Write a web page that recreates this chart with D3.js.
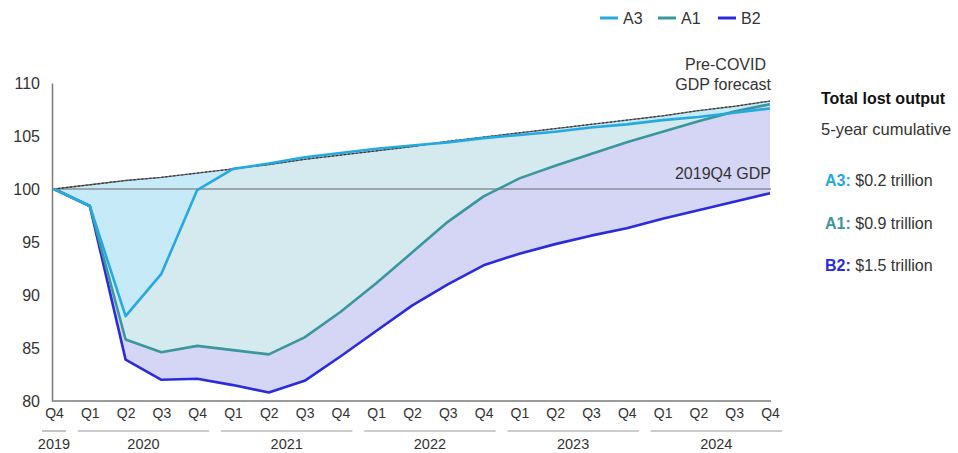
<!DOCTYPE html>
<html><head><meta charset="utf-8">
<script src="https://cdn.jsdelivr.net/npm/d3@7"></script>
<style>
html,body{margin:0;padding:0;background:#fff;}
svg text{font-family:"Liberation Sans",Arial,sans-serif;}
</style></head>
<body>
<svg id="chart" width="958" height="453"></svg>
<script>
const quarters = ["2019Q4","2020Q1","2020Q2","2020Q3","2020Q4","2021Q1","2021Q2","2021Q3","2021Q4","2022Q1","2022Q2","2022Q3","2022Q4","2023Q1","2023Q2","2023Q3","2023Q4","2024Q1","2024Q2","2024Q3","2024Q4"];
const years = ["2019","2020","2021","2022","2023","2024"];
const forecast = [100,100.4,100.8,101.1,101.5,101.9,102.3,102.8,103.2,103.6,104.0,104.5,104.9,105.3,105.7,106.1,106.5,106.9,107.4,107.8,108.3];
const A3 = [100,98.4,88.0,92.0,99.9,101.9,102.4,103.0,103.4,103.8,104.1,104.4,104.8,105.1,105.4,105.8,106.1,106.5,106.8,107.2,107.6];
const A1 = [100,98.4,85.8,84.6,85.2,84.8,84.4,86.0,88.4,91.1,94.0,96.9,99.3,101.0,102.2,103.3,104.4,105.4,106.4,107.3,108.0];
const B2 = [100,98.4,83.9,82.0,82.1,81.5,80.8,81.9,84.2,86.6,89.0,91.0,92.8,93.9,94.8,95.6,96.3,97.2,98.0,98.8,99.6];
const yTicks = [80,85,90,95,100,105,110];
const lostOutput = [["A3","$0.2 trillion"],["A1","$0.9 trillion"],["B2","$1.5 trillion"]];
const colors = {A3:"#26a9e0", A1:"#3a979c", B2:"#2b2bdc"};

const svg = d3.select("#chart");
const x = d3.scalePoint().domain(quarters).range([54, 770]);
const y = d3.scaleLinear().domain([80,110]).range([401, 83]);

// fills
function band(top, bot, fill){
  const area = d3.area().x((d,i)=>x(quarters[i])).y0((d,i)=>y(bot[i])).y1((d,i)=>y(top[i]));
  svg.append("path").datum(quarters).attr("d", area).attr("fill", fill).attr("stroke","none");
}
band(forecast, A3, "#c6eaf8");
band(A3, A1, "#d4eaef");
band(A1, B2, "#d5d6f5");

// 2019Q4 GDP reference line
svg.append("line").attr("x1",52).attr("x2",771).attr("y1",y(100)).attr("y2",y(100))
  .attr("stroke","#8a8f94").attr("stroke-width",1.5);

// forecast line
const line = d3.line().x((d,i)=>x(quarters[i])).y(d=>y(d));
svg.append("path").datum(forecast).attr("d",line).attr("fill","none")
  .attr("stroke","#6a6a6a").attr("stroke-width",1.3);
svg.append("path").datum(forecast).attr("d",line).attr("fill","none")
  .attr("stroke","#333").attr("stroke-width",1.2).attr("stroke-dasharray","2,2");

// series lines
[["B2",B2],["A1",A1],["A3",A3]].forEach(([k,v])=>{
  svg.append("path").datum(v).attr("d",line).attr("fill","none")
    .attr("stroke",colors[k]).attr("stroke-width",2.6).attr("stroke-linejoin","round");
});

// y axis
const yAxis = svg.append("g").attr("transform","translate(52,0)")
  .call(d3.axisLeft(y).tickValues(yTicks).tickSize(0).tickPadding(12).tickFormat(d3.format("d")));
yAxis.select(".domain").attr("stroke","#7a7a7a").attr("stroke-width",1.5);
yAxis.selectAll("text").attr("font-size",16).attr("fill","#333");

// x axis
const xAxis = svg.append("g").attr("transform","translate(0,401)")
  .call(d3.axisBottom(x).tickSize(0).tickSizeOuter(0).tickPadding(7).tickFormat(d=>d.slice(4)));
xAxis.select(".domain").attr("d","M52,0H771").attr("stroke","#7a7a7a").attr("stroke-width",1.5);
xAxis.selectAll("text").attr("font-size",14).attr("fill","#333");

// year groups
years.forEach(yr=>{
  const qs = quarters.filter(q=>q.startsWith(yr));
  const x0 = x(qs[0]) - 12, x1 = x(qs[qs.length-1]) + 12;
  svg.append("line").attr("x1",x0).attr("x2",x1).attr("y1",431).attr("y2",431)
    .attr("stroke","#9a9a9a").attr("stroke-width",1.2);
  svg.append("text").attr("x",(x(qs[0])+x(qs[qs.length-1]))/2).attr("y",449)
    .attr("text-anchor","middle").attr("font-size",14.5).attr("fill","#333").text(yr);
});

// annotations
svg.append("text").attr("x",766).attr("y",70).attr("text-anchor","end").attr("font-size",16).attr("fill","#333").text("Pre-COVID");
svg.append("text").attr("x",771).attr("y",90).attr("text-anchor","end").attr("font-size",16).attr("fill","#333").text("GDP forecast");
svg.append("text").attr("x",771).attr("y",179).attr("text-anchor","end").attr("font-size",16).attr("fill","#333").text("2019Q4 GDP");

// legend
const legendX = {A3:600, A1:658, B2:718};
["A3","A1","B2"].forEach(k=>{
  svg.append("line").attr("x1",legendX[k]).attr("x2",legendX[k]+18).attr("y1",18).attr("y2",18)
    .attr("stroke",colors[k]).attr("stroke-width",3);
  svg.append("text").attr("x",legendX[k]+23).attr("y",24).attr("font-size",16).attr("fill","#333").text(k);
});

// right panel
svg.append("text").attr("x",821).attr("y",104).attr("font-size",16).attr("font-weight","bold").attr("fill","#111").text("Total lost output");
svg.append("text").attr("x",821).attr("y",135).attr("font-size",16.5).attr("fill","#333").text("5-year cumulative");
lostOutput.forEach(([k,v],i)=>{
  const t = svg.append("text").attr("x",825).attr("y",186 + i*42.5).attr("font-size",16).attr("fill","#333");
  t.append("tspan").attr("font-weight","bold").attr("fill",colors[k]).text(k+":");
  t.append("tspan").text(" "+v);
});
</script>
</body></html>
